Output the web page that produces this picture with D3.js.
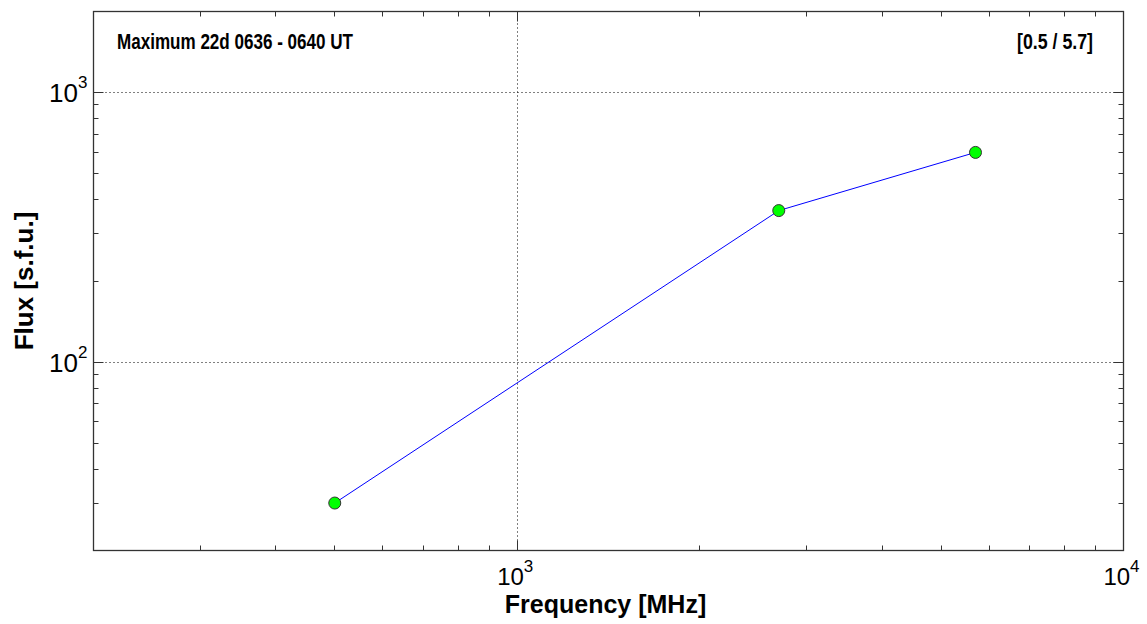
<!DOCTYPE html>
<html>
<head>
<meta charset="utf-8">
<script src="https://cdn.jsdelivr.net/npm/d3@7"></script>
<style>
  body { margin: 0; background: #fff; }
  svg { display: block; }
  text { font-family: "Liberation Sans", Arial, sans-serif; fill: #000; }
</style>
</head>
<body>
<div id="chart"></div>
<script>
// spectrum at maximum, frequency in MHz, flux in s.f.u.
const freqs = [500, 2700, 5700];
const flux = [30, 365, 600];
const xDecades = [1000, 10000];
const yDecades = [100, 1000];
const titleText = "Maximum 22d 0636 - 0640 UT";
const rangeText = "[0.5 / 5.7]";
const xLabel = "Frequency [MHz]";
const yLabel = "Flux [s.f.u.]";

const W = 1147, H = 624;
const margin = { top: 11.5, right: 23.5, bottom: 73.5, left: 93.5 };
const width = W - margin.left - margin.right;
const height = H - margin.top - margin.bottom;

const svg = d3.select("#chart").append("svg")
  .attr("width", W)
  .attr("height", H);

const g = svg.append("g")
  .attr("transform", `translate(${margin.left},${margin.top})`);

const x = d3.scaleLog().domain([200, 10000]).range([0, width]);
const y = d3.scaleLog().domain([20, 2000]).range([height, 0]);

// minor tick values for each decade
function minors(lo, hi) {
  const out = [];
  for (let d = Math.pow(10, Math.floor(Math.log10(lo))); d < hi; d *= 10) {
    for (let k = 2; k < 10; k++) {
      const v = d * k;
      if (v > lo && v < hi) out.push(v);
    }
  }
  return out;
}

// grid
g.selectAll(".hgrid").data(yDecades).enter().append("line")
  .attr("x1", 0).attr("x2", width)
  .attr("y1", d => Math.round(y(d))).attr("y2", d => Math.round(y(d)))
  .attr("stroke", "#000").attr("stroke-width", 1)
  .attr("stroke-dasharray", "1,3");
g.selectAll(".vgrid").data(xDecades.filter(d => d < 10000)).enter().append("line")
  .attr("x1", d => Math.round(x(d))).attr("x2", d => Math.round(x(d)))
  .attr("y1", 0).attr("y2", height)
  .attr("stroke", "#000").attr("stroke-width", 1)
  .attr("stroke-dasharray", "1,3");

// ticks on all four sides, pointing inward
const tickCol = "#333";
const xMin = minors(200, 10000);
const yMin = minors(20, 2000);
[[0, 1], [height, -1]].forEach(([y0, dir]) => {
  g.append("g").selectAll("line").data(xMin).enter().append("line")
    .attr("x1", d => Math.round(x(d))).attr("x2", d => Math.round(x(d)))
    .attr("y1", y0).attr("y2", y0 + dir * 5)
    .attr("stroke", tickCol);
  g.append("g").selectAll("line").data(xDecades).enter().append("line")
    .attr("x1", d => Math.round(x(d))).attr("x2", d => Math.round(x(d)))
    .attr("y1", y0).attr("y2", y0 + dir * 10)
    .attr("stroke", tickCol);
});
[[0, 1], [width, -1]].forEach(([x0, dir]) => {
  g.append("g").selectAll("line").data(yMin).enter().append("line")
    .attr("y1", d => Math.round(y(d))).attr("y2", d => Math.round(y(d)))
    .attr("x1", x0).attr("x2", x0 + dir * 5)
    .attr("stroke", tickCol);
  g.append("g").selectAll("line").data(yDecades).enter().append("line")
    .attr("y1", d => Math.round(y(d))).attr("y2", d => Math.round(y(d)))
    .attr("x1", x0).attr("x2", x0 + dir * 10)
    .attr("stroke", tickCol);
});

// frame
g.append("rect")
  .attr("x", 0).attr("y", 0)
  .attr("width", width).attr("height", height)
  .attr("fill", "none").attr("stroke", "#333").attr("stroke-width", 1.3);

// tick labels 10^n
function powLabel(sel, v, big) {
  const e = Math.round(Math.log10(v));
  sel.append("tspan").text("10");
  sel.append("tspan").attr("dy", -Math.round(big * 0.55)).attr("font-size", 17).text(e);
}
g.selectAll(".ylab").data(yDecades).enter().append("text")
  .attr("x", -6).attr("y", d => y(d) + 9.5)
  .attr("text-anchor", "end").attr("font-size", 26)
  .each(function(d) { powLabel(d3.select(this), d, 26); });
g.selectAll(".xlab").data(xDecades).enter().append("text")
  .attr("x", d => x(d) - 2).attr("y", height + 34.5)
  .attr("text-anchor", "middle").attr("font-size", 24)
  .each(function(d) { powLabel(d3.select(this), d, 24); });

// line and markers
const pts = freqs.map((f, i) => ({ f, v: flux[i] }));
g.append("path")
  .datum(pts)
  .attr("d", d3.line().x(d => x(d.f)).y(d => y(d.v)))
  .attr("fill", "none").attr("stroke", "#0000ff").attr("stroke-width", 1);
g.selectAll(".pt").data(pts).enter().append("circle")
  .attr("cx", d => x(d.f)).attr("cy", d => y(d.v)).attr("r", 6)
  .attr("fill", "#00ff00").attr("stroke", "#333").attr("stroke-width", 1);

// labels
svg.append("text")
  .attr("x", 117).attr("y", 48.5)
  .attr("font-size", 22).attr("font-weight", "bold")
  .attr("textLength", 236).attr("lengthAdjust", "spacingAndGlyphs")
  .text(titleText);
svg.append("text")
  .attr("x", 1017).attr("y", 48.5)
  .attr("font-size", 22).attr("font-weight", "bold")
  .attr("textLength", 76).attr("lengthAdjust", "spacingAndGlyphs")
  .text(rangeText);
svg.append("text")
  .attr("x", margin.left + width / 2 - 3).attr("y", 613)
  .attr("text-anchor", "middle").attr("font-size", 25).attr("font-weight", "bold")
  .text(xLabel);
svg.append("text")
  .attr("transform", `translate(33,${margin.top + height / 2}) rotate(-90)`)
  .attr("text-anchor", "middle").attr("font-size", 26).attr("font-weight", "bold")
  .text(yLabel);
</script>
</body>
</html>
